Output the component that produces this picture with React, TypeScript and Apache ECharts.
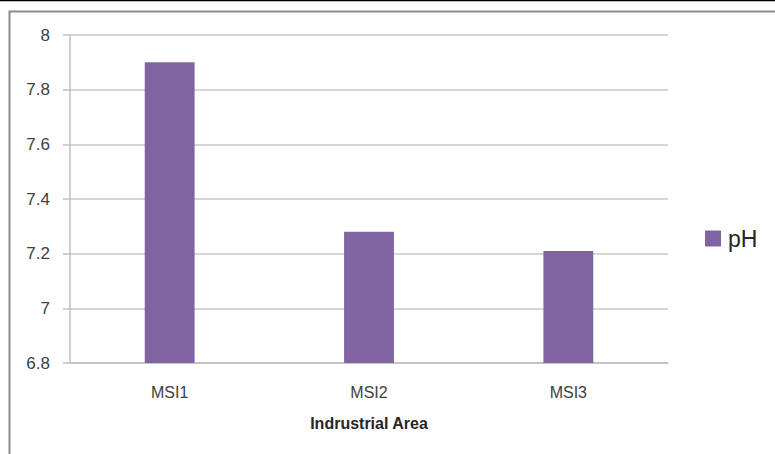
import React, { useEffect, useRef } from "react";
import * as echarts from "echarts";

const categories = ["MSI1", "MSI2", "MSI3"];
const phValues = [7.9, 7.28, 7.21];
const seriesName = "pH";
const xTitle = "Indrustrial Area";

export default function App() {
  const ref = useRef<HTMLDivElement>(null);
  useEffect(() => {
    const chart = echarts.init(ref.current!, undefined, { renderer: "svg" });
    const font = "'Liberation Sans', Arial, sans-serif";
    chart.setOption({
      animation: false,
      backgroundColor: "#ffffff",
      textStyle: { fontFamily: font },
      graphic: [
        { type: "line", shape: { x1: 0, y1: 0.5, x2: 775, y2: 0.5 }, style: { stroke: "#000", lineWidth: 1.5 } },
        { type: "rect", shape: { x: 9.5, y: 11.5, width: 820, height: 500 }, style: { fill: "none", stroke: "#8c8c8c", lineWidth: 2 } },
      ],
      grid: { left: 70, top: 35, right: 107, bottom: 91, containLabel: false },
      legend: {
        data: [seriesName],
        left: 700,
        top: 222,
        icon: "rect",
        itemWidth: 16,
        itemHeight: 16,
        itemGap: 8,
        textStyle: { fontSize: 23, color: "#262626", fontFamily: font, padding: [0, 0, 0, 2] },
      },
      xAxis: {
        type: "category",
        data: categories,
        name: xTitle,
        nameLocation: "middle",
        nameGap: 52,
        nameTextStyle: { fontSize: 16, fontWeight: "bold", color: "#262626", fontFamily: font },
        axisLine: { lineStyle: { color: "#bfbfbf", width: 1.5 } },
        axisTick: { show: false },
        axisLabel: { fontSize: 16, color: "#404040", margin: 21 },
      },
      yAxis: {
        type: "value",
        min: 6.8,
        max: 8,
        interval: 0.2,
        axisLine: { show: true, lineStyle: { color: "#bfbfbf", width: 1.5 } },
        axisTick: { show: true, length: 7, lineStyle: { color: "#bfbfbf", width: 1.5 } },
        splitLine: { lineStyle: { color: "#c8c8c8", width: 1.5 } },
        axisLabel: {
          fontSize: 17,
          color: "#404040",
          margin: 20,
          formatter: (v: number) => String(parseFloat(v.toFixed(1))),
        },
      },
      series: [
        {
          name: seriesName,
          type: "bar",
          data: phValues,
          barWidth: "25%",
          itemStyle: { color: "#8064A2" },
        },
      ],
    });
    return () => chart.dispose();
  }, []);
  return (
    <div
      ref={ref}
      style={{ position: "absolute", left: 0, top: 0, width: 775, height: 454 }}
    />
  );
}
